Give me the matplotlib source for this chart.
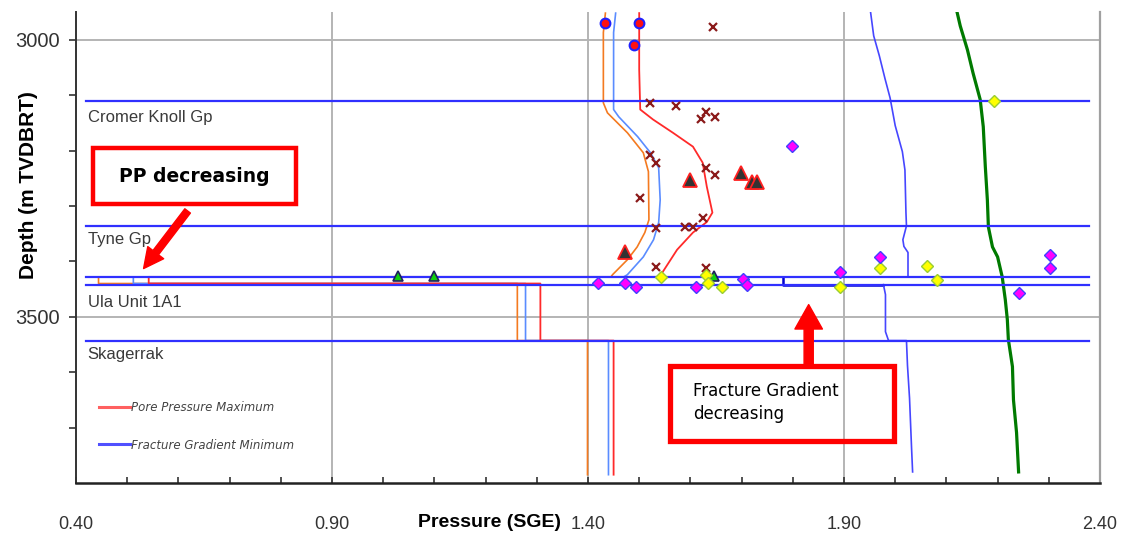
import numpy as np
import matplotlib.pyplot as plt
from matplotlib.lines import Line2D
from matplotlib.patches import Rectangle
from matplotlib import font_manager

# pick a narrow font for tick labels if there is one
try:
    font_manager.findfont('Liberation Sans Narrow', fallback_to_default=False)
    narrow = 'Liberation Sans Narrow'
except Exception:
    narrow = 'Liberation Sans'

# formation tops (m TVDBRT)
fm_names = ['Cromer Knoll Gp', 'Tyne Gp', 'Ula Unit 1A1', 'Skagerrak']
fm_label_depth = [3141, 3361, 3475, 3569]
fm_tops = [3110, 3336, 3428, 3442, 3543]

# pore pressure minimum (orange)
ppmin_p = [1.434, 1.430, 1.430, 1.438, 1.477, 1.508, 1.518, 1.519, 1.511, 1.496, 1.477, 1.448,
           1.445, 0.444, 0.444, 1.262, 1.262, 1.399, 1.399]
ppmin_d = [2952, 2987, 3114, 3132, 3168, 3204, 3238, 3325, 3348, 3374, 3397, 3424,
           3428, 3428, 3440, 3440, 3543, 3543, 3785]

# pore pressure most likely (light blue)
ppml_p = [1.454, 1.450, 1.450, 1.460, 1.497, 1.522, 1.538, 1.541, 1.538, 1.528, 1.508, 1.477,
          1.470, 0.512, 0.512, 1.278, 1.278, 1.440, 1.440]
ppml_d = [2952, 2987, 3126, 3139, 3175, 3204, 3231, 3289, 3330, 3361, 3392, 3424,
          3428, 3428, 3440, 3440, 3543, 3543, 3785]

# pore pressure maximum (red)
ppmax_p = [1.500, 1.500, 1.502, 1.527, 1.566, 1.605, 1.624, 1.632, 1.643, 1.632, 1.605, 1.574,
           1.546, 1.538, 0.542, 0.542, 1.307, 1.307, 1.450, 1.450]
ppmax_d = [2952, 3054, 3126, 3144, 3168, 3193, 3222, 3265, 3312, 3329, 3348, 3379,
           3419, 3428, 3428, 3440, 3440, 3543, 3543, 3785]

# fracture gradient minimum (blue)
fg_p = [1.952, 1.958, 1.969, 1.980, 1.990, 2.000, 2.014, 2.019, 2.021, 2.022, 2.015, 2.017,
        2.025, 2.025]
fg_d = [2951, 2993, 3029, 3070, 3105, 3155, 3202, 3235, 3312, 3336, 3361, 3373, 3384, 3428]
fg_ula_p = [1.780, 1.780, 1.977]
fg_ula_d = [3428, 3442, 3442]
fg_low_p = [1.977, 1.981, 1.981, 1.987, 2.022, 2.024, 2.028, 2.032, 2.034]
fg_low_d = [3442, 3460, 3527, 3543, 3543, 3588, 3647, 3738, 3780]

# overburden (green)
ob_p = [2.121, 2.127, 2.141, 2.152, 2.166, 2.172, 2.176, 2.180, 2.182, 2.190, 2.200, 2.209,
        2.215, 2.219, 2.221, 2.229, 2.231, 2.237, 2.241]
ob_d = [2951, 2975, 3018, 3060, 3108, 3157, 3229, 3289, 3338, 3374, 3392, 3428,
        3469, 3505, 3541, 3590, 3650, 3709, 3780]

# measured points
circ_p = [1.434, 1.499, 1.489]
circ_d = [2969, 2969, 3009]
kick_p = [1.645, 1.522, 1.571, 1.630, 1.620, 1.649, 1.522, 1.532, 1.630, 1.649, 1.501,
          1.532, 1.590, 1.606, 1.625, 1.532, 1.630]
kick_d = [2977, 3114, 3119, 3130, 3144, 3139, 3208, 3222, 3231, 3244, 3285,
          3339, 3338, 3338, 3321, 3410, 3412]
tri_p = [1.600, 1.698, 1.721, 1.731, 1.473]
tri_d = [3253, 3240, 3256, 3256, 3383]
gtri_p = [1.028, 1.100, 1.647]
gtri_d = [3426, 3426, 3426]
mag_p = [1.420, 1.473, 1.493, 1.610, 1.702, 1.711, 1.799, 1.893, 1.971, 2.303, 2.303, 2.241]
mag_d = [3439, 3439, 3446, 3446, 3431, 3442, 3191, 3419, 3392, 3388, 3412, 3457]
yel_p = [1.542, 1.630, 1.634, 1.662, 1.893, 1.971, 2.063, 2.082, 2.192]
yel_d = [3428, 3424, 3439, 3446, 3446, 3412, 3408, 3433, 3110]

fig = plt.figure(figsize=(11.23, 5.41), dpi=100)
ax = fig.add_axes([76/1123, 1-483/541, 1024/1123, 471/541])

ax.set_xlim(0.4, 2.4)
ax.set_ylim(3800, 2950)

# grid
for g in [0.9, 1.4, 1.9]:
    ax.axvline(g, color='#b4b4b4', lw=1.4, zorder=0)
for g in [3000, 3500]:
    ax.axhline(g, color='#b4b4b4', lw=1.4, zorder=0)

# curves
ax.plot(ppmin_p, ppmin_d, color='#f47a20', lw=1.2, zorder=2)
ax.plot(ppml_p, ppml_d, color='#5a8cff', lw=1.2, zorder=2)
ax.plot(ppmax_p, ppmax_d, color='#ff2a2a', lw=1.3, zorder=2)
ax.plot(fg_p, fg_d, color='#4646ff', lw=1.2, zorder=2)
ax.plot(fg_ula_p, fg_ula_d, color='#0000d0', lw=1.8, zorder=2)
ax.plot(fg_low_p, fg_low_d, color='#4646ff', lw=1.2, zorder=2)
ax.plot(ob_p, ob_d, color='#007a00', lw=2.3, zorder=2)

# formation tops
for d in fm_tops:
    ax.plot([0.419, 2.378], [d, d], color='#3030ff', lw=1.6, zorder=3)
for name, d in zip(fm_names, fm_label_depth):
    ax.text(0.423, d, name, fontsize=12, color='#3a3a3a', va='center', ha='left',
            family='Liberation Sans')

# points
ax.plot(circ_p, circ_d, 'o', ms=7, mfc='#ff1010', mec='#2020ff', mew=1.5, zorder=5)
ax.plot(kick_p, kick_d, 'x', ms=6, color='#8b1a1a', mew=1.6, zorder=5)
ax.plot(tri_p, tri_d, '^', ms=10, mfc='#333333', mec='#ff2020', mew=1.3, zorder=5)
ax.plot(gtri_p, gtri_d, '^', ms=6.5, mfc='#10d010', mec='#202060', mew=1.2, zorder=5)
ax.plot(yel_p, yel_d, 'D', ms=6.5, mfc='#ffff00', mec='#9acd32', mew=1.0, zorder=5)
ax.plot(mag_p, mag_d, 'D', ms=6.5, mfc='#ff00ff', mec='#4040ff', mew=1.0, zorder=5)

# legend
handles = [Line2D([], [], color='#ff6060', lw=2.2), Line2D([], [], color='#5050ff', lw=2.2)]
leg = ax.legend(handles, ['Pore Pressure Maximum', 'Fracture Gradient Minimum'],
                loc='upper left', bbox_to_anchor=(0.012, 0.197), frameon=False,
                prop={'size': 8.5, 'style': 'italic'}, handlelength=2.6, handletextpad=0.1,
                labelspacing=2.1)
for t in leg.get_texts():
    t.set_color('#444444')

# annotation boxes
ax.add_patch(Rectangle((0.434, 3195), 0.829-0.434, 3296-3195, fill=False,
                       ec='#ff0000', lw=3.2, zorder=6))
ax.text(0.631, 3247, 'PP decreasing', fontsize=13.5, fontweight='bold', ha='center',
        va='center', zorder=7)
ax.annotate('', xy=(0.532, 3413), xytext=(0.618, 3309),
            arrowprops=dict(arrowstyle='simple,head_width=0.8,head_length=0.8,tail_width=0.28',
                            color='#ff0000', mutation_scale=18, shrinkA=0, shrinkB=0), zorder=7)

ax.add_patch(Rectangle((1.561, 3588), 1.997-1.561, 3724-3588, facecolor='none',
                       ec='#ff0000', lw=3.8, zorder=6))
ax.text(1.606, 3655, 'Fracture Gradient\ndecreasing', fontsize=12, ha='left',
        va='center', linespacing=1.35, zorder=7)
ax.annotate('', xy=(1.831, 3478), xytext=(1.831, 3588),
            arrowprops=dict(arrowstyle='simple,head_width=0.9,head_length=0.8,tail_width=0.3',
                            color='#ff0000', mutation_scale=22, shrinkA=0, shrinkB=0), zorder=7)

# axes styling
ax.spines['top'].set_visible(False)
ax.spines['right'].set_color('#a0a0a0')
ax.spines['right'].set_linewidth(1.6)
ax.spines['left'].set_color('#333333')
ax.spines['left'].set_linewidth(1.4)
ax.spines['bottom'].set_color('#222222')
ax.spines['bottom'].set_linewidth(1.8)

ax.set_xticks([0.4, 0.9, 1.4, 1.9, 2.4])
ax.set_xticklabels(['0.40', '0.90', '1.40', '1.90', '2.40'])
ax.set_xticks(np.arange(0.4, 2.41, 0.1), minor=True)
ax.set_yticks([3000, 3500])
ax.set_yticks(np.arange(3000, 3800, 100), minor=True)
ax.tick_params(axis='x', which='both', direction='in', length=4, width=1.2, color='#333333')
ax.tick_params(axis='x', which='major', pad=24, labelsize=13, labelcolor='#333333')
ax.tick_params(axis='y', which='both', direction='out', length=5, width=1.2, color='#333333')
ax.tick_params(axis='y', which='major', pad=7, labelsize=14.5, labelcolor='#333333')
for lab in ax.get_xticklabels():
    lab.set_family(narrow)
for lab in ax.get_yticklabels():
    lab.set_family('Liberation Sans')

ax.set_xlabel('Pressure (SGE)', fontsize=14, fontweight='bold', family=narrow, labelpad=0)
ax.xaxis.set_label_coords((490-76)/1024, -(514-483)/471)
ax.set_ylabel('Depth (m TVDBRT)', fontsize=15, fontweight='bold', family='Liberation Sans')
ax.yaxis.set_label_coords(-(76-38)/1024, (483-185)/471)

plt.savefig('out.png', dpi=100)
